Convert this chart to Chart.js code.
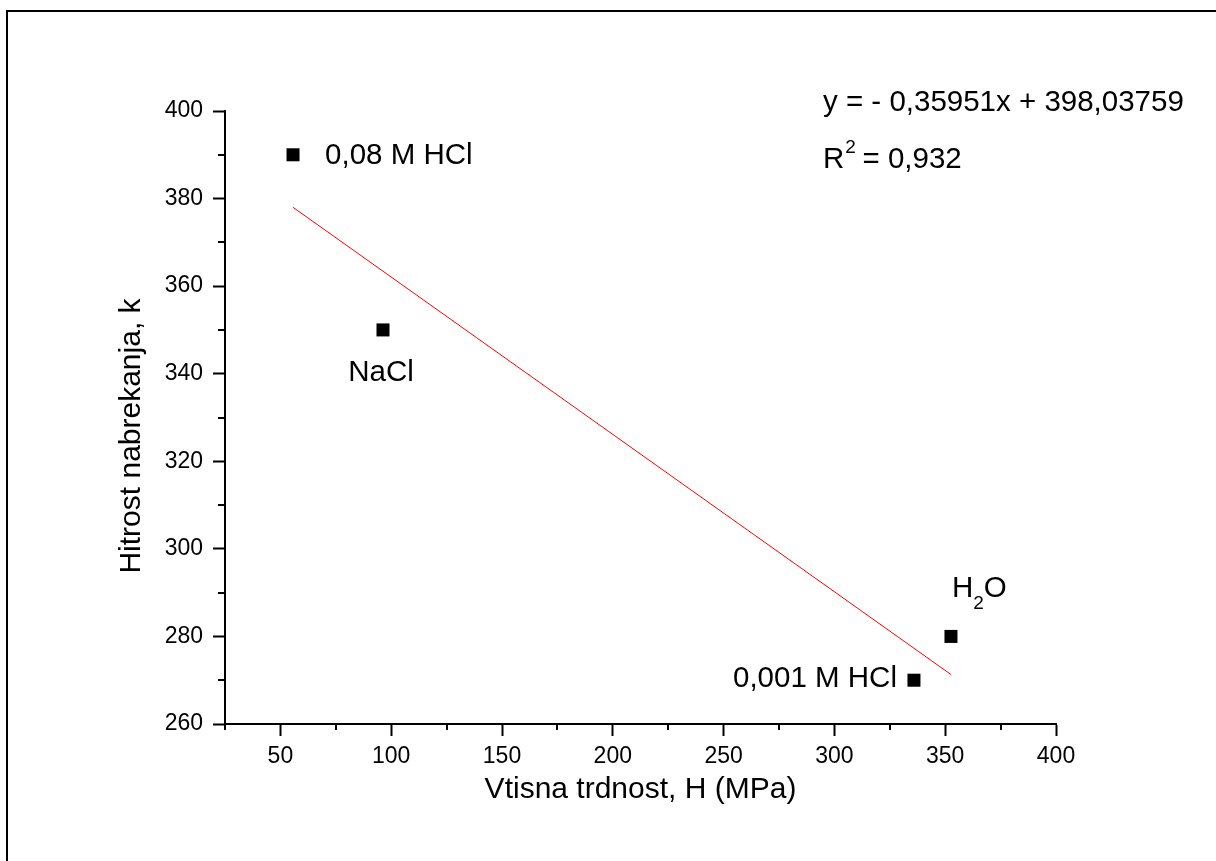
<!DOCTYPE html>
<html lang="sl">
<head>
  <meta charset="UTF-8">
  <title>Hitrost nabrekanja vs. vtisna trdnost</title>
  <script src="https://cdn.jsdelivr.net/npm/chart.js"></script>
  <style>
    html, body { margin: 0; padding: 0; background: #fff; }
    canvas { display: block; }
  </style>
</head>
<body>
  <canvas id="chart" width="1216" height="861"></canvas>

  <script>
    // Data
    const sampleNames = ['0,08 M HCl', 'NaCl', '0,001 M HCl', 'H2O'];
    const hardness = [55.7, 96.3, 335.9, 352.6];   // Vtisna trdnost, H (MPa)
    const swelling = [390, 350, 270, 280];         // Hitrost nabrekanja, k

    // Linear fit endpoints (red line)
    const fitX = [55.7, 352.6];
    const fitY = [378.0, 271.3];

    const xTicks = [50, 100, 150, 200, 250, 300, 350, 400];
    const xMinor = [25, 75, 125, 175, 225, 275, 325, 375];
    const yTicks = [260, 280, 300, 320, 340, 360, 380, 400];
    const yMinor = [270, 290, 310, 330, 350, 370, 390];

    const FONT = '"Liberation Sans", Arial, sans-serif';
    const BIG = '29.5px ' + FONT;
    const SUB = '19px ' + FONT;

    // Label placement relative to each point (px)
    const labelPos = [
      {dx: 32, dy: 1, align: 'left'},
      {dx: -2, dy: 43, align: 'center'},
      {dx: -17, dy: -1, align: 'right'},
      {dx: 1, dy: -48, align: 'left'}
    ];

    // minor ticks, y title, point labels, equation and the outer frame
    const extras = {
      id: 'extras',
      afterDraw(chart) {
        const ctx = chart.ctx;
        const xs = chart.scales.x, ys = chart.scales.y;
        const area = chart.chartArea;
        ctx.save();
        ctx.strokeStyle = '#000';
        ctx.lineWidth = 2;
        ctx.beginPath();
        xMinor.forEach(v => {
          const px = Math.round(xs.getPixelForValue(v));
          ctx.moveTo(px, area.bottom);
          ctx.lineTo(px, area.bottom + 6);
        });
        yMinor.forEach(v => {
          const py = Math.round(ys.getPixelForValue(v));
          ctx.moveTo(area.left, py);
          ctx.lineTo(area.left - 7, py);
        });
        ctx.stroke();

        // frame
        ctx.beginPath();
        ctx.moveTo(7, 861);
        ctx.lineTo(7, 11);
        ctx.lineTo(1216, 11);
        ctx.stroke();

        ctx.fillStyle = '#000';
        ctx.textBaseline = 'middle';

        // y axis title
        ctx.save();
        ctx.translate(132, 436);
        ctx.rotate(-Math.PI / 2);
        ctx.textAlign = 'center';
        ctx.font = '30px ' + FONT;
        ctx.fillText('Hitrost nabrekanja, k', 0, 0);
        ctx.restore();

        // point labels
        ctx.font = BIG;
        sampleNames.forEach((name, i) => {
          const px = xs.getPixelForValue(hardness[i]) + labelPos[i].dx;
          const py = ys.getPixelForValue(swelling[i]) + labelPos[i].dy;
          if (name === 'H2O') {
            ctx.textAlign = 'left';
            ctx.fillText('H', px, py);
            const w = ctx.measureText('H').width;
            ctx.font = SUB;
            ctx.fillText('2', px + w, py + 15);
            const w2 = ctx.measureText('2').width;
            ctx.font = BIG;
            ctx.fillText('O', px + w + w2, py);
          } else {
            ctx.textAlign = labelPos[i].align;
            ctx.fillText(name, px, py);
          }
        });

        // fit equation
        ctx.textAlign = 'left';
        const ex = area.left + 598;
        ctx.fillText('y = - 0,35951x + 398,03759', ex, area.top - 8);
        ctx.fillText('R', ex, area.top + 49);
        const rw = ctx.measureText('R').width;
        ctx.font = SUB;
        ctx.fillText('2', ex + rw + 1, area.top + 37);
        ctx.font = BIG;
        ctx.fillText(' = 0,932', ex + rw + 10, area.top + 49);
        ctx.restore();
      }
    };

    new Chart(document.getElementById('chart'), {
      data: {
        datasets: [
          {
            type: 'scatter',
            label: 'Vzorci',
            data: hardness.map((h, i) => ({x: h, y: swelling[i]})),
            pointStyle: 'rect',
            pointRadius: 9.2,
            pointHoverRadius: 9.2,
            backgroundColor: '#000',
            borderColor: '#000',
            borderWidth: 0
          },
          {
            type: 'line',
            label: 'Linearni fit',
            data: fitX.map((h, i) => ({x: h, y: fitY[i]})),
            borderColor: '#ff0000',
            borderWidth: 1,
            pointRadius: 0,
            fill: false
          }
        ]
      },
      options: {
        responsive: false,
        animation: false,
        devicePixelRatio: 1,
        clip: false,
        layout: { padding: { left: 0, top: 111, right: 160, bottom: 0 } },
        plugins: {
          legend: { display: false },
          tooltip: { enabled: false }
        },
        scales: {
          x: {
            type: 'linear',
            position: 'bottom',
            min: 25,
            max: 400,
            afterBuildTicks: s => { s.ticks = xTicks.map(v => ({value: v})); },
            afterFit: s => { s.height = 137; },
            border: { color: '#000', width: 2 },
            grid: { drawOnChartArea: false, tickLength: 12, tickColor: '#000', tickWidth: 2 },
            ticks: { color: '#000', font: { family: FONT, size: 23 }, padding: 7, maxRotation: 0 },
            title: {
              display: true,
              text: 'Vtisna trdnost, H (MPa)',
              color: '#000',
              font: { family: FONT, size: 30 },
              padding: { top: 0, bottom: 53 }
            }
          },
          y: {
            type: 'linear',
            position: 'left',
            min: 260,
            max: 400,
            afterBuildTicks: s => { s.ticks = yTicks.map(v => ({value: v})); },
            afterFit: s => { s.width = 225; },
            border: { color: '#000', width: 2 },
            grid: { drawOnChartArea: false, tickLength: 12, tickColor: '#000', tickWidth: 2 },
            ticks: { color: '#000', font: { family: FONT, size: 23 }, padding: 10 },
            title: { display: false }
          }
        }
      },
      plugins: [extras]
    });
  </script>
</body>
</html>
